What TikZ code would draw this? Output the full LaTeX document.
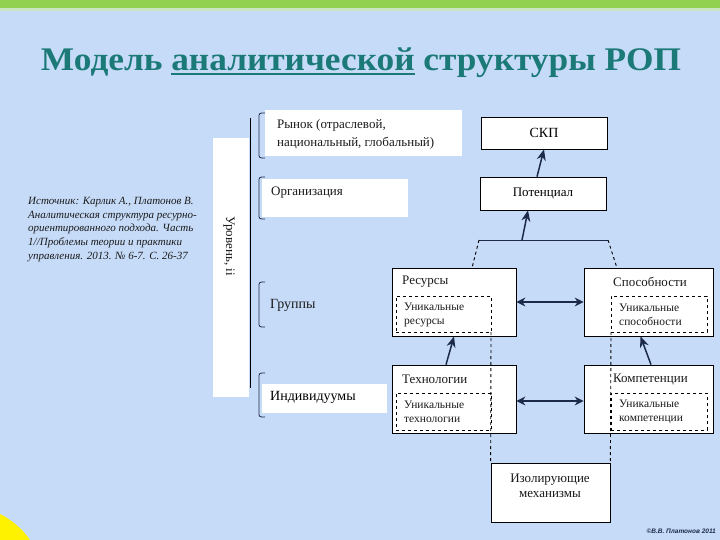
\documentclass[tikz,border=0pt]{standalone}
\usepackage{fontspec}
\usepackage{graphicx}
\setmainfont{Liberation Serif}
\newfontfamily\sansf{Liberation Sans}
\usetikzlibrary{arrows.meta}
\definecolor{bgblue}{HTML}{C6DBF8}
\definecolor{topgreen}{HTML}{92D050}
\definecolor{lightgreen}{HTML}{C9E6C0}
\definecolor{titleteal}{HTML}{1B7A78}
\definecolor{navy}{HTML}{1C2A4A}
\definecolor{txt}{HTML}{1A1A1A}
\newcommand\myul[1]{\setbox0\hbox{#1}\rlap{\rule[-4.5pt]{\wd0}{2.6pt}}\box0\relax}
\tikzset{
  box/.style={draw=black, line width=0.7pt, fill=white, inner sep=0pt},
  inbox/.style={draw=black, dashed, line width=0.7pt, inner sep=0pt},
  wbox/.style={fill=white, draw=none, inner sep=0pt},
  lab/.style={font=\fontsize{13}{15}\selectfont, text=txt, inner sep=0pt},
  sublab/.style={font=\fontsize{11.5}{14}\selectfont, text=txt, inner sep=0pt, align=left},
  lvl/.style={font=\fontsize{13}{18}\selectfont, text=txt, inner sep=0pt, align=left, anchor=west},
  brk/.style={draw=navy, line width=0.8pt},
  arr/.style={draw=navy, line width=1.5pt, -{Stealth[length=11pt,width=9pt]}},
  darr/.style={draw=navy, line width=2.2pt, {Stealth[length=9pt,width=9pt]}-{Stealth[length=9pt,width=9pt]}},
  dln/.style={draw=black, dashed, line width=0.9pt},
}
\begin{document}
\begin{tikzpicture}[x=1pt,y=-1pt]
\useasboundingbox (0,0) rectangle (720,540);
\fill[bgblue] (0,0) rectangle (720,540);
\fill[lightgreen] (0,8) rectangle (720,11);
\fill[topgreen] (0,0) rectangle (720,8.5);
\fill[yellow] (0,514) .. controls (10,519) and (22,528) .. (30,540) -- (0,540) -- cycle;

% title
\node[text=titleteal, font=\fontsize{33}{38}\selectfont\bfseries, inner sep=0pt] (title) at (361,63) {\scalebox{1.07}[1]{Модель \myul{аналитической} структуры РОП}};

% citation
\node[font=\fontsize{11}{13.7}\selectfont\itshape, text=txt, align=left, anchor=north west, inner sep=0pt] (cite) at (28,197) {Источник: Карлик А., Платонов В.\\Аналитическая структура ресурно-\\ориентированного подхода. Часть\\1//Проблемы теории и практики\\управления. 2013. № 6-7. С. 26-37};

% left level panel
\node[wbox, minimum width=36pt, minimum height=259pt] (panel) at (231,267.5) {};
\node[font=\fontsize{13}{15}\selectfont, text=txt, rotate=-90, inner sep=0pt] (lvltext) at (229,246) {Уровень, іі};
\coordinate (vtop) at (250,118);
\coordinate (vbot) at (250,388);
\draw[black, line width=0.8pt] (vtop) -- (vbot);

% level boxes
\node[wbox, minimum width=197pt, minimum height=46pt] (mkt) at (363.5,133) {};
\node[lvl] (mkttext) at (277,134) {Рынок (отраслевой,\\национальный, глобальный)};
\node[wbox, minimum width=146pt, minimum height=38pt] (org) at (335,198) {};
\node[lvl] (orgtext) at (271,193) {Организация};
\node[lvl, font=\fontsize{14}{16}\selectfont] (grp) at (270,305) {Группы};
\node[wbox, minimum width=125pt, minimum height=29pt] (ind) at (324.5,398.5) {};
\node[lvl, font=\fontsize{14}{16}\selectfont, text=black] (indtext) at (270,397) {Индивидуумы};

% brackets
\foreach \a/\b in {113/158, 177/219, 282/327, 373/417}{
  \draw[brk] (265,\a) .. controls (259,\a) .. (259,\a+5) -- (259,\b-5) .. controls (259,\b) .. (265,\b);
}

% right diagram
\node[box, minimum width=126pt, minimum height=32pt, font=\fontsize{14}{16}\selectfont] (skp) at (544,133) {СКП};
\node[box, minimum width=126pt, minimum height=33pt, font=\fontsize{13}{15}\selectfont] (pot) at (543,193.5) {Потенциал};

\node[box, minimum width=124pt, minimum height=68pt] (res) at (454,302) {};
\node[box, minimum width=129pt, minimum height=68pt] (spo) at (648.5,302) {};
\node[box, minimum width=124pt, minimum height=68pt] (tech) at (454,399) {};
\node[box, minimum width=129pt, minimum height=68pt] (komp) at (648.5,399) {};
\node[box, minimum width=119pt, minimum height=59pt] (izo) at (550.5,492.5) {};
\node[lab, align=center, font=\fontsize{13}{15.5}\selectfont] (izotext) at (550,486) {Изолирующие\\механизмы};

\node[inbox, minimum width=95pt, minimum height=36pt] (resin) at (443.5,314) {};
\node[inbox, minimum width=96pt, minimum height=36pt] (spoin) at (659,314) {};
\node[inbox, minimum width=95pt, minimum height=37pt] (techin) at (443.5,411.5) {};
\node[inbox, minimum width=96pt, minimum height=37pt] (kompin) at (659,411.5) {};

\node[lab, anchor=west] (reslab) at (402,282) {Ресурсы};
\node[lab, anchor=west] (spolab) at (613,282) {Способности};
\node[lab, anchor=west] (techlab) at (402,379) {Технологии};
\node[lab, anchor=west] (komplab) at (613,379) {Компетенции};
\node[sublab, anchor=west] (restext) at (404,315) {Уникальные\\ресурсы};
\node[sublab, anchor=west] (spotext) at (619,315) {Уникальные\\способности};
\node[sublab, anchor=west] (techtext) at (404,412) {Уникальные\\технологии};
\node[sublab, anchor=west] (komptext) at (619,412) {Уникальные\\компетенции};

% group bracket over resources/capabilities
\coordinate (gl) at (479,240);
\coordinate (gr) at (608,240);
\coordinate (gm) at (522,240);
\coordinate (glb) at (472,268);
\coordinate (grb) at (617,268);
\draw[navy, line width=0.9pt] (gl) -- (gr);
\draw[dln] (gl) -- (glb);
\draw[dln] (gr) -- (grb);

% dashed verticals to isolating mechanisms
\coordinate (d1) at (491,332);
\coordinate (d2) at (611,332);
\draw[dln] (d1) -- (izo.north west);
\draw[dln] (d2) -- (izo.north east);

% arrows
\draw[arr] (gm) -- ([xshift=-15pt]pot.south);
\draw[arr] ([xshift=-6pt]pot.north) -- (skp.south);
\draw[arr] ([xshift=-8pt]tech.north) -- (res.south);
\draw[arr] ([xshift=2.5pt]komp.north) -- ([xshift=-8pt]spo.south);
\draw[darr] (res.east) -- (spo.west);
\draw[darr] ([yshift=-2pt]tech.east) -- ([yshift=-2pt]komp.west);

% footer
\node[font=\sansf\fontsize{6.5}{8}\selectfont\bfseries\itshape, text=navy, inner sep=0pt, anchor=east] (foot) at (716,531) {©В.В. Платонов 2011};
\end{tikzpicture}
\end{document}
